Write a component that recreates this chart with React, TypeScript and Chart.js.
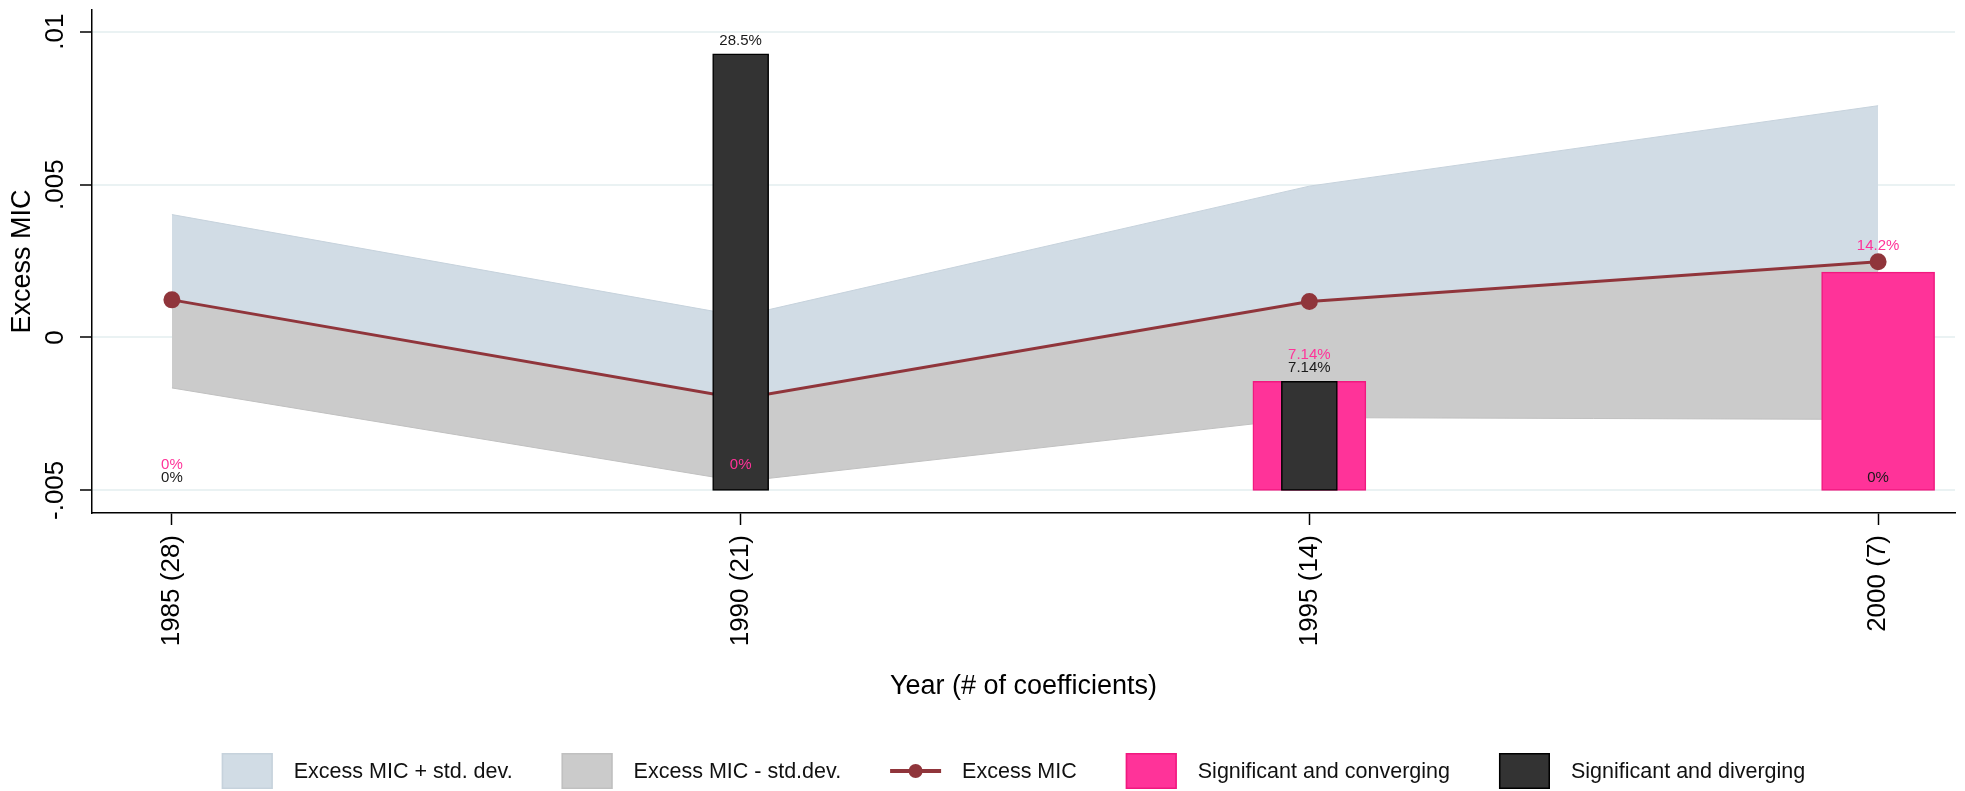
import React, { useEffect, useRef } from "react";
import { Chart, registerables } from "chart.js";

Chart.register(...registerables);

// ---------- data ----------
const categories = ["1985 (28)", "1990 (21)", "1995 (14)", "2000 (7)"];
const excessMIC = [0.00123, -0.002, 0.00118, 0.00248];
const upperSD = [0.00402, 0.0007, 0.00495, 0.00758];
const lowerSD = [-0.00165, -0.00471, -0.00262, -0.00268];
const barBase = -0.005;
const convergingTop = [-0.005, -0.005, -0.00143, 0.00214];
const divergingTop = [-0.005, 0.00928, -0.00143, -0.005];
const convergingLabels = ["0%", "0%", "7.14%", "14.2%"];
const divergingLabels = ["0%", "28.5%", "7.14%", "0%"];
const yTickValues = [-0.005, 0, 0.005, 0.01];
const yTickLabels = ["-.005", "0", ".005", ".01"];
const legendLabels = [
  "Excess MIC + std. dev.",
  "Excess MIC - std.dev.",
  "Excess MIC",
  "Significant and converging",
  "Significant and diverging",
];

// ---------- styles ----------
const FONT = "'Liberation Sans', Arial, sans-serif";
const BLUE = "#D1DCE5";
const BLUE_EDGE = "#C6D2DC";
const GREY = "#CBCBCB";
const GREY_EDGE = "#C0C0C0";
const LINE = "#90353B";
const PINK = "#FF3399";
const PINK_EDGE = "#F0197F";
const DARK = "#333333";

const pts = (arr: number[]) => arr.map((v, i) => ({ x: i, y: v }));
const bars = (arr: number[]) => arr.map((v, i) => ({ x: i, y: [barBase, v] }));

const overlayPlugin = {
  id: "overlay",
  afterDatasetsDraw(chart: any) {
    const { ctx } = chart;
    const x = chart.scales.x;
    const y = chart.scales.y;
    ctx.save();
    ctx.textAlign = "center";
    ctx.textBaseline = "middle";
    ctx.font = `15px ${FONT}`;
    categories.forEach((_, i) => {
      const px = x.getPixelForValue(i);
      ctx.fillStyle = PINK;
      ctx.fillText(convergingLabels[i], px, y.getPixelForValue(convergingTop[i]) - 26);
      ctx.fillStyle = "#1a1a1a";
      ctx.fillText(divergingLabels[i], px, y.getPixelForValue(divergingTop[i]) - 13);
    });
    // rotated y tick labels
    ctx.font = `26px ${FONT}`;
    ctx.fillStyle = "#000";
    yTickValues.forEach((v, k) => {
      ctx.save();
      ctx.translate(56, y.getPixelForValue(v));
      ctx.rotate(-Math.PI / 2);
      ctx.fillText(yTickLabels[k], 0, 0);
      ctx.restore();
    });
    ctx.restore();
  },
  afterDraw(chart: any) {
    const { ctx, chartArea } = chart;
    ctx.save();
    ctx.font = `21.5px ${FONT}`;
    const boxW = 51;
    const boxH = 36;
    const gapBT = 21;
    const gapItem = 49;
    const widths = legendLabels.map((t) => boxW + gapBT + ctx.measureText(t).width);
    const total = widths.reduce((a, b) => a + b, 0) + gapItem * (widths.length - 1);
    let cx = (chartArea.left + chartArea.right) / 2 - total / 2 - 10;
    const yMid = chart.height - 20;
    const yTop = yMid - boxH / 2;
    legendLabels.forEach((t, i) => {
      if (i === 2) {
        ctx.strokeStyle = LINE;
        ctx.lineWidth = 4;
        ctx.beginPath();
        ctx.moveTo(cx, yMid);
        ctx.lineTo(cx + boxW, yMid);
        ctx.stroke();
        ctx.fillStyle = LINE;
        ctx.beginPath();
        ctx.arc(cx + boxW / 2, yMid, 7, 0, Math.PI * 2);
        ctx.fill();
      } else {
        const fills = [BLUE, GREY, "", PINK, DARK];
        const edges = [BLUE_EDGE, GREY_EDGE, "", PINK_EDGE, "#000"];
        ctx.fillStyle = fills[i];
        ctx.fillRect(cx, yTop, boxW, boxH);
        ctx.strokeStyle = edges[i];
        ctx.lineWidth = 1.5;
        ctx.strokeRect(cx + 0.75, yTop + 0.75, boxW - 1.5, boxH - 1.5);
      }
      ctx.fillStyle = "#111";
      ctx.textAlign = "left";
      ctx.textBaseline = "middle";
      ctx.fillText(t, cx + boxW + gapBT, yMid + 1);
      cx += widths[i] + gapItem;
    });
    ctx.restore();
  },
};

export default function App() {
  const canvasRef = useRef<HTMLCanvasElement | null>(null);

  useEffect(() => {
    if (!canvasRef.current) return;
    Chart.defaults.font.family = FONT;
    Chart.defaults.color = "#000";
    const chart = new Chart(canvasRef.current, {
      type: "bar",
      data: {
        datasets: [
          {
            type: "line",
            label: legendLabels[0],
            data: pts(upperSD),
            fill: "+1",
            backgroundColor: BLUE,
            borderColor: BLUE_EDGE,
            borderWidth: 1,
            pointRadius: 0,
            order: 3,
          } as any,
          {
            type: "line",
            label: legendLabels[2],
            data: pts(excessMIC),
            fill: false,
            borderColor: LINE,
            backgroundColor: LINE,
            borderWidth: 3,
            pointRadius: 7,
            pointBackgroundColor: LINE,
            pointBorderColor: LINE,
            order: 2,
          } as any,
          {
            type: "line",
            label: legendLabels[1],
            data: pts(lowerSD),
            fill: "-1",
            backgroundColor: GREY,
            borderColor: GREY_EDGE,
            borderWidth: 1,
            pointRadius: 0,
            order: 4,
          } as any,
          {
            type: "bar",
            label: legendLabels[3],
            data: bars(convergingTop),
            backgroundColor: (c: any) =>
              convergingTop[c.dataIndex] > barBase ? PINK : "rgba(0,0,0,0)",
            borderColor: PINK_EDGE,
            borderWidth: (c: any) => (convergingTop[c.dataIndex] > barBase ? 1.5 : 0),
            barThickness: 113,
            grouped: false,
            borderSkipped: false,
            order: 1,
          } as any,
          {
            type: "bar",
            label: legendLabels[4],
            data: bars(divergingTop),
            backgroundColor: (c: any) =>
              divergingTop[c.dataIndex] > barBase ? DARK : "rgba(0,0,0,0)",
            borderColor: "#000",
            borderWidth: (c: any) => (divergingTop[c.dataIndex] > barBase ? 1.5 : 0),
            barThickness: 56,
            grouped: false,
            borderSkipped: false,
            order: 0,
          } as any,
        ],
      },
      options: {
        responsive: false,
        animation: false,
        events: [],
        layout: { padding: { top: 3, right: 7, bottom: 81, left: 0 } },
        plugins: {
          legend: { display: false },
          tooltip: { enabled: false },
        },
        scales: {
          x: {
            type: "linear",
            min: -0.1405,
            max: 3.1352,
            offset: false,
            afterBuildTicks: (s: any) => {
              s.ticks = categories.map((_, i) => ({ value: i }));
            },
            afterFit: (s: any) => {
              s.height = 197;
            },
            ticks: {
              callback: (v: any) => categories[v] ?? "",
              minRotation: 90,
              maxRotation: 90,
              autoSkip: false,
              padding: 10,
              font: { size: 26 },
              color: "#000",
            },
            grid: {
              offset: false,
              drawOnChartArea: false,
              drawTicks: true,
              tickLength: 12,
              tickColor: "#000",
              tickWidth: 1.5,
            },
            border: { display: true, color: "#000", width: 1.5 },
            title: {
              display: true,
              text: "Year (# of coefficients)",
              font: { size: 27 },
              color: "#000",
              padding: { top: 0, bottom: 7 },
            },
          },
          y: {
            type: "linear",
            min: -0.00574,
            max: 0.01071,
            afterBuildTicks: (s: any) => {
              s.ticks = yTickValues.map((v) => ({ value: v }));
            },
            afterFit: (s: any) => {
              s.width = 92;
            },
            ticks: { display: false },
            grid: {
              color: "#EAF2F3",
              lineWidth: 2,
              drawTicks: true,
              tickLength: 12,
              tickColor: "#000",
              tickWidth: 1.5,
            },
            border: { display: true, color: "#000", width: 1.5 },
            title: {
              display: true,
              text: "Excess MIC",
              font: { size: 27 },
              color: "#000",
              padding: { top: 6, bottom: 0 },
            },
          },
        },
      } as any,
      plugins: [overlayPlugin],
    });
    return () => chart.destroy();
  }, []);

  return (
    <div
      style={{
        position: "absolute",
        left: 0,
        top: 0,
        width: 1965,
        height: 791,
        background: "#fff",
      }}
    >
      <canvas ref={canvasRef} width={1965} height={791} style={{ display: "block" }} />
    </div>
  );
}
